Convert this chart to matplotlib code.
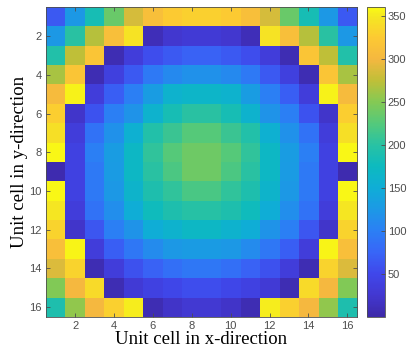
import numpy as np
import matplotlib
matplotlib.use("Agg")
import matplotlib.pyplot as plt
from matplotlib.colors import LinearSegmentedColormap

# valores por celda (fila 1 arriba, columna 1 izquierda)
row01 = [65, 125, 185, 235, 285, 310, 325, 330, 330, 325, 310, 285, 235, 185, 125, 65]
row02 = [125, 200, 270, 310, 345, 10, 25, 30, 30, 25, 10, 345, 310, 270, 200, 125]
row03 = [195, 275, 318, 8, 35, 55, 65, 72, 72, 65, 55, 35, 8, 318, 275, 195]
row04 = [265, 318, 8, 38, 65, 95, 110, 118, 118, 110, 95, 65, 38, 8, 318, 265]
row05 = [305, 355, 35, 70, 100, 130, 160, 165, 165, 160, 130, 100, 70, 35, 355, 305]
row06 = [328, 22, 60, 100, 120, 160, 185, 200, 200, 185, 160, 120, 100, 60, 22, 328]
row07 = [343, 35, 88, 118, 155, 195, 210, 225, 225, 210, 195, 155, 118, 88, 35, 343]
row08 = [358, 42, 100, 130, 170, 205, 225, 238, 238, 225, 205, 170, 130, 100, 42, 358]
row09 = [5, 42, 95, 128, 170, 200, 220, 238, 238, 220, 200, 170, 128, 95, 42, 5]
row10 = [358, 42, 95, 125, 162, 190, 205, 218, 218, 205, 190, 162, 125, 95, 42, 358]
row11 = [348, 35, 88, 115, 150, 178, 190, 198, 198, 190, 178, 150, 115, 88, 35, 348]
row12 = [332, 22, 62, 100, 120, 150, 160, 170, 170, 160, 150, 120, 100, 62, 22, 332]
row13 = [310, 357, 35, 70, 92, 112, 125, 128, 128, 125, 112, 92, 70, 35, 357, 310]
row14 = [288, 333, 8, 35, 58, 72, 85, 92, 92, 85, 72, 58, 35, 8, 333, 288]
row15 = [248, 300, 338, 8, 30, 42, 48, 55, 55, 48, 42, 30, 8, 338, 300, 248]
row16 = [190, 255, 300, 330, 352, 8, 20, 28, 28, 20, 8, 352, 330, 300, 255, 190]

datos = np.array([row01, row02, row03, row04, row05, row06, row07, row08,
                  row09, row10, row11, row12, row13, row14, row15, row16])

ticks_xy = [2, 4, 6, 8, 10, 12, 14, 16]
ticks_cb = [50, 100, 150, 200, 250, 300, 350]

# parula aproximado, leido de la barra de color
parula_pts = [
    (0.24, 0.16, 0.66), (0.26, 0.22, 0.82), (0.25, 0.28, 0.92),
    (0.22, 0.40, 0.97), (0.17, 0.50, 0.96), (0.11, 0.60, 0.90),
    (0.06, 0.68, 0.84), (0.05, 0.73, 0.75), (0.16, 0.76, 0.64),
    (0.33, 0.79, 0.48), (0.52, 0.79, 0.33), (0.75, 0.75, 0.22),
    (0.96, 0.72, 0.25), (0.99, 0.79, 0.20), (0.96, 0.91, 0.13),
    (0.98, 0.98, 0.08),
]
pos = [0, 25, 50, 75, 100, 125, 150, 175, 200, 225, 250, 275, 300, 325, 350, 360]
parula = LinearSegmentedColormap.from_list(
    "parula", list(zip([p / 360 for p in pos], parula_pts)), N=256)

gris = "#4d4d4d"
fig = plt.figure(figsize=(4.1, 3.56), dpi=100)
ax = fig.add_axes([0.112, 0.110, 0.759, 0.870])
cax = fig.add_axes([0.895, 0.110, 0.044, 0.870])

im = ax.imshow(datos, cmap=parula, vmin=0, vmax=360, aspect="auto",
               extent=[0.5, 16.5, 16.5, 0.5], interpolation="nearest")
ax.set_xticks(ticks_xy)
ax.set_yticks(ticks_xy)
ax.tick_params(direction="in", top=True, right=True, length=3, width=0.6,
               labelsize=8, colors=gris, labelcolor=gris, pad=3)
for lab in ax.get_xticklabels() + ax.get_yticklabels():
    lab.set_family("Liberation Sans")
for s in ax.spines.values():
    s.set_color(gris)
    s.set_linewidth(0.6)

ax.set_xlabel("Unit cell in x-direction", family="Liberation Serif", fontsize=13.5, labelpad=0)
ax.set_ylabel("Unit cell in y-direction", family="Liberation Serif", fontsize=13.5, labelpad=1)

cb = fig.colorbar(im, cax=cax, ticks=ticks_cb)
cb.ax.tick_params(direction="in", length=3, width=0.6, labelsize=8, colors=gris,
                  labelcolor=gris, pad=2)
for lab in cb.ax.get_yticklabels():
    lab.set_family("Liberation Sans")
cb.outline.set_edgecolor(gris)
cb.outline.set_linewidth(0.6)

fig.savefig("out.png", dpi=100)
